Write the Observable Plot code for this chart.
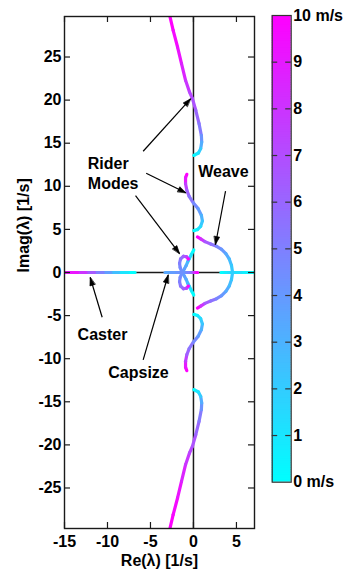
<!DOCTYPE html>
<html>
<head>
<meta charset="utf-8">
<script src="https://cdn.jsdelivr.net/npm/d3@7"></script>
<script src="https://cdn.jsdelivr.net/npm/@observablehq/plot@0.6"></script>
<style>
  html, body { margin: 0; padding: 0; background: #fff; }
  #chart { position: relative; width: 345px; height: 575px; }
  #chart svg { position: absolute; left: 0; top: 0; }
</style>
</head>
<body>
<div id="chart"></div>
<script>
// Eigenvalue loci as [Re(λ), Im(λ), forward speed in m/s].
// Complex branches are listed for the upper half-plane; their conjugates are drawn below.
const highFreq = [
  [-2.74, 29.72, 10], [-2.36, 28.10, 9.6], [-1.85, 26.16, 9.2], [-1.39, 24.23, 8.6],
  [-0.92, 22.30, 7.9], [-0.46, 20.94, 7.2], [-0.12, 20.17, 6.8], [0.27, 18.82, 6.0],
  [0.65, 17.27, 5.2], [0.92, 15.90, 4.2], [0.96, 15.14, 3.2], [0.84, 14.37, 2.0],
  [0.58, 13.86, 1.0], [0.07, 13.60, 0]
];
const midFreq = [
  [-0.77, 11.39, 10], [-0.92, 11.00, 9.0], [-0.92, 10.30, 7.5], [-0.77, 9.54, 6.2],
  [-0.50, 8.84, 5.4], [0.00, 8.06, 4.6], [0.54, 7.41, 3.8], [0.92, 6.64, 3.0],
  [1.04, 5.97, 2.2], [0.84, 5.36, 1.4], [0.46, 4.98, 0.6], [0.07, 4.86, 0]
];
const weave = [
  [0.46, 4.12, 10], [0.84, 3.89, 8.0], [1.34, 3.58, 6.5], [2.00, 3.31, 5.5],
  [2.69, 3.04, 4.7], [3.27, 2.69, 4.0], [3.77, 2.19, 3.3], [4.16, 1.57, 2.6],
  [4.42, 0.84, 2.1], [4.55, 0.00, 1.8]
];
const riderLoopInner = [
  [0.03, 2.61, 0], [-0.23, 2.11, 0.9], [-0.46, 1.65, 1.8], [-0.66, 1.25, 2.8],
  [-0.85, 0.80, 3.4], [-1.05, 0.42, 3.8], [-1.32, 0.00, 4.2]
];
const riderLoopOuter = [
  [-1.32, 0.00, 4.3], [-1.55, 0.57, 4.7], [-1.62, 1.07, 5.1], [-1.50, 1.57, 5.6],
  [-1.16, 1.88, 6.4], [-0.80, 1.82, 7.6], [-0.60, 1.58, 10]
];
// Real eigenvalues
const caster = [
  [-6.8, 0, 0], [-7.6, 0, 1], [-8.7, 0, 2.5], [-9.6, 0, 3.8], [-10.5, 0, 5],
  [-11.5, 0, 6.5], [-12.5, 0, 8], [-13.5, 0, 9.2], [-15.0, 0, 10]
];
const capsize = [
  [-3.3, 0, 3.4], [-2.6, 0, 3.9], [-1.9, 0, 4.2], [-1.32, 0, 4.4], [-0.7, 0, 4.8],
  [-0.3, 0, 5.6], [0.0, 0, 7.2], [0.2, 0, 8.8], [0.45, 0, 10]
];
const weaveRealLow = [[3.20, 0, 0], [3.65, 0, 0.7], [4.10, 0, 1.3], [4.55, 0, 1.8]];
const weaveRealHigh = [[7.30, 0, 0], [6.40, 0, 0.6], [5.50, 0, 1.2], [4.55, 0, 1.8]];

// Axis ticks
const xTicks = [-15, -10, -5, 0, 5];
const yTicks = [-25, -20, -15, -10, -5, 0, 5, 10, 15, 20, 25];
const speedTicks = [0, 1, 2, 3, 4, 5, 6, 7, 8, 9, 10];

// Annotations: labels and pointers (tail Re, tail Im, head Re, head Im)
const labels = [
  {text: "Weave", re: 3.49, im: 11.66},
  {text: "Caster", re: -10.58, im: -7.19},
  {text: "Capsize", re: -6.39, im: -11.66}
];
const riderLabel = [{text: "Rider\nModes", re: -12.29, im: 11.54}];
const pointers = [
  [-5.85, 14.07, -0.34, 20.15],
  [-5.50, 11.52, -0.89, 9.26],
  [-6.74, 8.93, -1.62, 2.20],
  [3.73, 9.43, 2.56, 3.25],
  [-10.62, -5.19, -12.01, -0.58],
  [-5.85, -10.13, -2.94, -0.29]
];

// Assemble branch rows for the line mark
const complexBranches = {highFreq, midFreq, weave, riderLoopInner, riderLoopOuter};
const realBranches = {caster, capsize, weaveRealLow, weaveRealHigh};
const rows = [];
for (const [name, pts] of Object.entries(realBranches)) {
  for (const [re, im, v] of pts) rows.push({branch: name, re, im, v});
}
for (const [name, pts] of Object.entries(complexBranches)) {
  for (const [re, im, v] of pts) rows.push({branch: name + "+", re, im, v});
  for (const [re, im, v] of pts) rows.push({branch: name + "-", re, im: -im, v});
}

const font = "'Liberation Sans', Arial, Helvetica, sans-serif";
const speedColor = {type: "linear", domain: [0, 10], range: ["#00ffff", "#ff00ff"], interpolate: "rgb"};
const ink = "#1a1a1a";

const W = 345, H = 575;
const mTop = 16, mBottom = 47, mLeft = 64, mRight = 91;
const xDomain = [-15, 7.1], yDomain = [-29.7, 29.7];
const frameW = W - mLeft - mRight, frameH = H - mTop - mBottom;
const tickLen = 6;
const fmt = (d) => `${d}`;

// screen direction of each pointer, for orienting its solid head
const kx = frameW / (xDomain[1] - xDomain[0]);
const ky = frameH / (yDomain[1] - yDomain[0]);
const headAngle = (d) => (Math.atan2((d[2] - d[0]) * kx, (d[3] - d[1]) * ky) * 180) / Math.PI;
const solidHead = {
  draw(context, l) {
    context.moveTo(0, -l);
    context.lineTo(-2.7, 0);
    context.lineTo(2.7, 0);
    context.closePath();
  }
};

const locus = Plot.plot({
  width: W, height: H,
  marginTop: mTop, marginBottom: mBottom, marginLeft: mLeft, marginRight: mRight,
  x: {domain: xDomain},
  y: {domain: yDomain},
  color: speedColor,
  style: {fontFamily: font, fontSize: "16px", fontWeight: "bold", color: "black", background: "transparent"},
  marks: [
    Plot.ruleX([0], {stroke: ink, strokeWidth: 1.5}),
    Plot.ruleY([0], {stroke: ink, strokeWidth: 1.5}),
    Plot.line(rows, {x: "re", y: "im", z: "branch", stroke: "v", strokeWidth: 3.2,
      strokeLinecap: "round", strokeLinejoin: "round", clip: true}),
    Plot.link(pointers, {x1: (d) => d[0], y1: (d) => d[1], x2: (d) => d[2], y2: (d) => d[3],
      stroke: "black", strokeWidth: 1.2}),
    Plot.vector(pointers, {x: (d) => d[2], y: (d) => d[3], anchor: "end", length: 8,
      rotate: headAngle, shape: solidHead, fill: "black", stroke: "black", strokeWidth: 0.6}),
    Plot.text(labels, {x: "re", y: "im", text: "text", fontSize: 16, fontWeight: "bold", fill: "black"}),
    Plot.text(riderLabel, {x: "re", y: "im", text: "text", textAnchor: "start", lineHeight: 1.25,
      fontSize: 16, fontWeight: "bold", fill: "black"}),
    // inward ticks on all four sides
    Plot.tickX(xTicks, {x: (d) => d, insetTop: frameH - tickLen, stroke: ink, strokeWidth: 1.2}),
    Plot.tickX(xTicks, {x: (d) => d, insetBottom: frameH - tickLen, stroke: ink, strokeWidth: 1.2}),
    Plot.tickY(yTicks, {y: (d) => d, insetRight: frameW - tickLen, stroke: ink, strokeWidth: 1.2}),
    Plot.tickY(yTicks, {y: (d) => d, insetLeft: frameW - tickLen, stroke: ink, strokeWidth: 1.2}),
    Plot.frame({stroke: ink, strokeWidth: 1.4}),
    Plot.axisX(xTicks, {tickSize: 0, tickPadding: 7, tickFormat: fmt, label: null}),
    Plot.axisY(yTicks, {tickSize: 0, tickPadding: 3, tickFormat: fmt, label: null}),
    Plot.text(["Re(λ) [1/s]"], {frameAnchor: "bottom", lineAnchor: "middle", dy: 32, text: (d) => d,
      fontSize: 16, fontWeight: "bold"}),
    Plot.text(["Imag(λ) [1/s]"], {frameAnchor: "left", lineAnchor: "middle", dx: -41, rotate: -90,
      text: (d) => d, fontSize: 16, fontWeight: "bold"})
  ]
});

// Vertical speed colour bar
const barTop = 15, barBottom = 481.7, barLeft = 271.7, barRight = 290.7;
const barW = barRight - barLeft;
const step = 0.05;
const slices = d3.range(0, 10, step);
const colorbar = Plot.plot({
  width: W, height: H,
  marginTop: barTop, marginBottom: H - barBottom, marginLeft: barLeft, marginRight: W - barRight,
  x: {domain: [0, 1], axis: null},
  y: {domain: [0, 10], axis: null},
  color: speedColor,
  style: {fontFamily: font, fontSize: "16px", fontWeight: "bold", color: "black", background: "transparent"},
  marks: [
    Plot.rect(slices, {x1: () => 0, x2: () => 1, y1: (d) => d, y2: (d) => Math.min(10, d + step * 1.3),
      fill: (d) => d + step / 2}),
    Plot.tickY(speedTicks.slice(1, -1), {y: (d) => d, insetRight: barW - 5.5, stroke: "#333", strokeWidth: 1.2}),
    Plot.tickY(speedTicks.slice(1, -1), {y: (d) => d, insetLeft: barW - 5.5, stroke: "#333", strokeWidth: 1.2}),
    Plot.frame({stroke: "#333", strokeWidth: 1.2}),
    Plot.text(speedTicks, {x: () => 1, y: (d) => d, dx: 2, textAnchor: "start",
      text: (d) => (d === 0 || d === 10 ? `${d} m/s` : `${d}`), fontSize: 16, fontWeight: "bold", fill: "black"})
  ]
});

const root = document.getElementById("chart");
root.append(locus, colorbar);
</script>
</body>
</html>
